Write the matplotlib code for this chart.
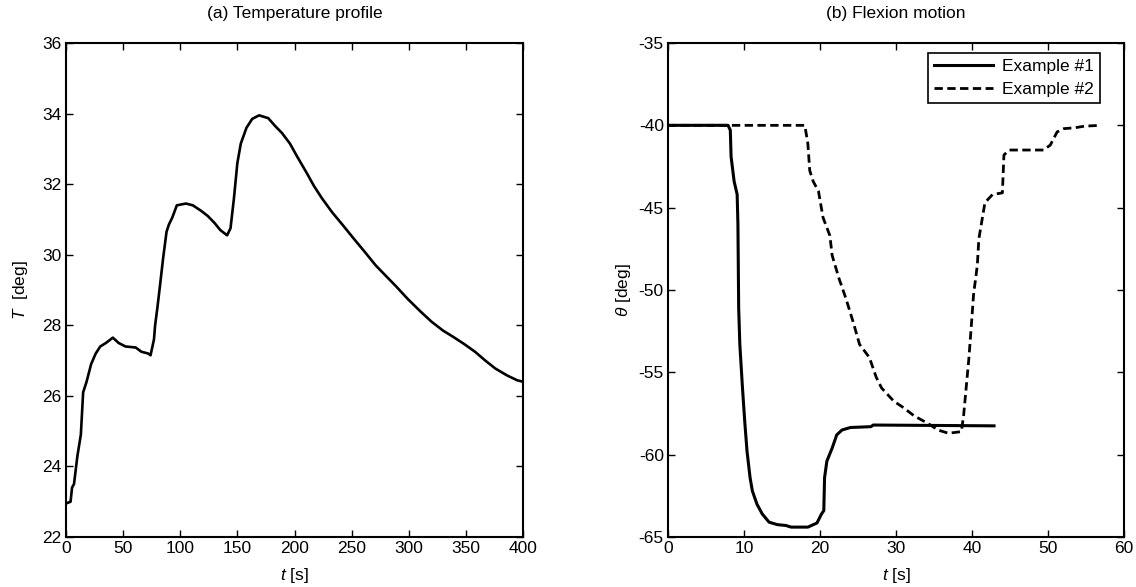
import matplotlib
matplotlib.use('Agg')
import matplotlib.pyplot as plt

plt.rcParams['font.family'] = ['Liberation Sans', 'DejaVu Sans']
plt.rcParams['mathtext.fontset'] = 'custom'
plt.rcParams['mathtext.it'] = 'Liberation Sans:italic'
plt.rcParams['mathtext.rm'] = 'Liberation Sans'
plt.rcParams['axes.unicode_minus'] = False

# (a) temperature profile
temp_t = [0, 4, 5.3, 7, 10, 13, 15, 18, 22, 26, 30, 35, 41, 46, 52, 61, 66, 72, 74, 77,
          78, 80, 82, 85, 88, 90, 93, 97, 105, 111, 118, 124, 130, 135, 141, 144, 147,
          150, 153, 158, 163, 169, 177, 183, 189, 196, 202, 211, 217, 224, 233, 242,
          252, 261, 271, 280, 289, 299, 310, 320, 330, 339, 348, 358, 367, 376, 386,
          395, 400]
temp_T = [22.95, 23.0, 23.4, 23.5, 24.3, 24.9, 26.1, 26.4, 26.9, 27.2, 27.4, 27.5, 27.65,
          27.5, 27.4, 27.37, 27.25, 27.2, 27.15, 27.6, 28.0, 28.5, 29.05, 29.9, 30.65,
          30.85, 31.05, 31.4, 31.45, 31.4, 31.25, 31.1, 30.9, 30.7, 30.55, 30.75, 31.6,
          32.6, 33.15, 33.6, 33.85, 33.95, 33.87, 33.65, 33.45, 33.15, 32.8, 32.3, 31.95,
          31.6, 31.2, 30.85, 30.45, 30.1, 29.7, 29.4, 29.1, 28.75, 28.4, 28.1, 27.85,
          27.67, 27.48, 27.25, 27.0, 26.77, 26.58, 26.44, 26.4]

# (b) flexion motion
ex1_t = [0, 7.9, 8.2, 8.3, 8.7, 9.1, 9.2, 9.3, 9.45, 9.8, 10.1, 10.4, 10.8, 11.1, 11.7,
         12.4, 13.3, 14.4, 15.5, 16.2, 18.4, 19.6, 20.2, 20.5, 20.6, 20.9, 21.6, 22.2,
         22.9, 24.0, 26.7, 27.0, 42.9]
ex1_theta = [-40, -40, -40.3, -41.9, -43.4, -44.2, -46.0, -51.1, -53.3, -55.95, -58.0,
             -59.8, -61.4, -62.2, -63.0, -63.6, -64.1, -64.25, -64.3, -64.4, -64.4,
             -64.15, -63.6, -63.4, -61.4, -60.4, -59.6, -58.8, -58.5, -58.35, -58.3,
             -58.2, -58.25]

ex2_t = [0, 18.0, 18.4, 18.65, 19.1, 19.8, 20.4, 21.3, 21.6, 22.5, 23.4, 24.4, 25.2,
         26.5, 27.4, 28.1, 29.7, 31.0, 32.4, 34.2, 35.5, 36.9, 38.6, 38.9, 39.1, 39.6,
         40.0, 40.2, 40.7, 40.9, 41.3, 41.7, 42.7, 44.0, 44.2, 44.9, 49.4, 50.3, 51.2,
         52.1, 53.5, 54.8, 56.9]
ex2_theta = [-40, -40, -41.1, -42.75, -43.4, -44.0, -45.6, -46.7, -47.9, -49.3, -50.5,
             -52.0, -53.3, -54.1, -55.3, -55.95, -56.75, -57.15, -57.65, -58.1, -58.5,
             -58.7, -58.6, -57.6, -56.6, -54.1, -51.6, -50.3, -48.5, -46.9, -45.8, -44.7,
             -44.2, -44.1, -41.8, -41.5, -41.5, -41.2, -40.4, -40.2, -40.15, -40.05, -40.0]

fs = 12.5
fig = plt.figure(figsize=(11.36, 5.87), dpi=100)
ax1 = fig.add_axes([66 / 1136, 1 - 537 / 587, 457 / 1136, 494 / 587])
ax2 = fig.add_axes([668 / 1136, 1 - 537 / 587, 456 / 1136, 494 / 587])

ax1.plot(temp_t, temp_T, color='black', linewidth=1.9)
ax1.set_xlim(0, 400)
ax1.set_ylim(22, 36)
ax1.set_xticks(range(0, 401, 50))
ax1.set_yticks(range(22, 37, 2))
ax1.set_title('(a) Temperature profile', fontsize=fs, pad=18)
ax1.set_xlabel('$t$ [s]', fontsize=fs, labelpad=7)
ax1.set_ylabel('$T$  [deg]', fontsize=fs, labelpad=9)

ax2.plot(ex1_t, ex1_theta, color='black', linewidth=2.2, label='Example #1')
ax2.plot(ex2_t, ex2_theta, color='black', linewidth=2.0, linestyle=(0, (3, 1.6)),
         label='Example #2')
ax2.set_xlim(0, 60)
ax2.set_ylim(-65, -35)
ax2.set_xticks(range(0, 61, 10))
ax2.set_yticks(range(-65, -34, 5))
ax2.set_title('(b) Flexion motion', fontsize=fs, pad=18)
ax2.set_xlabel('$t$ [s]', fontsize=fs, labelpad=7)
ax2.set_ylabel('$\\theta$ [deg]', fontsize=fs, labelpad=4)
leg = ax2.legend(loc='upper right', bbox_to_anchor=(0.947, 0.980), fontsize=fs,
                 frameon=True, fancybox=False, edgecolor='black', framealpha=1,
                 handlelength=3.4, handletextpad=0.5, borderaxespad=0,
                 labelspacing=0.45, borderpad=0.35)
leg.get_frame().set_linewidth(1.2)

for ax in (ax1, ax2):
    ax.tick_params(direction='in', top=True, right=True, length=5, width=1,
                   labelsize=fs, pad=3)
    for s in ax.spines.values():
        s.set_linewidth(1.5)

fig.savefig('out.png', dpi=100, facecolor='white')
